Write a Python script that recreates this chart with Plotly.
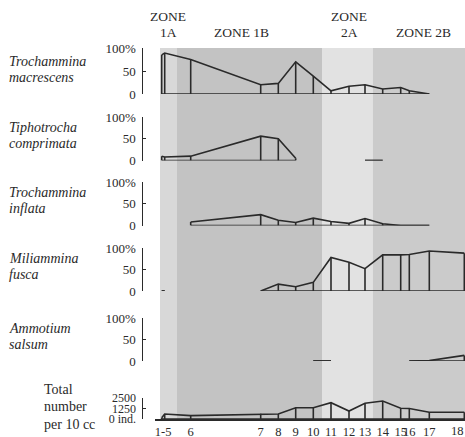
import plotly.graph_objects as go

W, H = 465, 437
INK = "#2a2a2a"
SERIF = "Liberation Serif, Times New Roman, serif"

# ---------------- data ----------------
# samples along the transect (samples 1-5 are bunched together)
SAMPLES = ["1", "5", "6", "7", "8", "9", "10", "11", "12", "13", "14", "15", "16", "17", "18"]
DIST = [0.7, 3.7, 29.7, 99.7, 117.3, 134.7, 152.3, 170.0, 188.0, 204.0,
        221.7, 239.7, 248.3, 268.3, 303.3]
TICK_LABELS = ["1-5", "6", "7", "8", "9", "10", "11", "12", "13", "14",
               "15", "16", "17", "18"]

# relative abundance (%); None = absent, 0 = present in trace amounts
MACRESCENS = [85, 89, 75, 20, 23, 70, 39, 7, 17, 20, 11, 14, 7, 0, None]
COMPRIMATA = [10, 8, 10, 56, 50, 5, None, None, None, 0, 0, None, None, None, None]
INFLATA = [None, None, 8, 25, 12, 7, 17, 9, 5, 16, 4, 0, 0, 0, None]
FUSCA = [0, 0, None, 0, 16, 10, 20, 78, 67, 52, 84, 84, 85, 93, 88]
SALSUM = [None, None, None, None, None, None, 0, 0, None, None, None, None, 0, 1, 13]
TOTAL = [150, 600, 400, 630, 600, 1345, 1345, 1940, 950, 1870, 2140, 1275, 1250, 800, 800]

SPECIES = [("Trochammina", "macrescens"), ("Tiphotrocha", "comprimata"),
           ("Trochammina", "inflata"), ("Miliammina", "fusca"),
           ("Ammotium", "salsum")]

# zones: (line1, line2, start, end)
ZONES = [("ZONE", "1A", -1, 16), ("", "ZONE 1B", 16, 161),
         ("ZONE", "2A", 161, 211.7), ("", "ZONE 2B", 211.7, 304)]
ZONE_COLORS = ["#d8d8d8", "#c3c3c3", "#e2e2e2", "#cbcbcb"]

# ---------------- layout helpers ----------------
# panel pixel extents (top, bottom) of each y bracket
PANELS = [(48, 94), (117, 160.5), (182, 225.5), (248, 291), (318, 361), (398, 419)]
AXIS_X = 141.5


def py(p):
    return 1 - p / H


def px(p):
    return p / W


line_style = dict(color=INK, width=1.6)

fig = go.Figure()

series = [MACRESCENS, COMPRIMATA, INFLATA, FUSCA, SALSUM, TOTAL]
for i, vals in enumerate(series):
    yref = "y" if i == 0 else f"y{i + 1}"
    # profile
    fig.add_trace(go.Scatter(x=DIST, y=vals, mode="lines", line=line_style,
                             connectgaps=False, yaxis=yref, hoverinfo="skip",
                             showlegend=False))
    # baseline where present
    base = [0 if v is not None else None for v in vals]
    fig.add_trace(go.Scatter(x=DIST, y=base, mode="lines", line=line_style,
                             connectgaps=False, yaxis=yref, hoverinfo="skip",
                             showlegend=False))
    # vertical sample lines
    vx, vy = [], []
    for d, v in zip(DIST, vals):
        if v is not None and v > 0:
            vx += [d, d, None]
            vy += [0, v, None]
    fig.add_trace(go.Scatter(x=vx, y=vy, mode="lines", line=line_style,
                             yaxis=yref, hoverinfo="skip", showlegend=False))


def yax(top, bottom, rng, tickvals, ticktext, size=13):
    return dict(domain=[py(bottom), py(top)], range=rng, anchor="free",
                position=px(AXIS_X), showline=True, linecolor=INK, linewidth=1.2,
                ticks="inside", ticklen=3, tickwidth=1.2, tickcolor=INK,
                tickvals=tickvals, ticktext=ticktext, ticklabelstandoff=3,
                tickfont=dict(family=SERIF, size=size, color=INK),
                showgrid=False, zeroline=False, fixedrange=True, automargin=False)


# the last sample label sits on the right edge; it is placed as an annotation
# so that it does not widen the page
layout = dict(
    width=W, height=H, margin=dict(l=0, r=0, t=0, b=0, autoexpand=False),
    paper_bgcolor="white", plot_bgcolor="white", showlegend=False,
    xaxis=dict(domain=[px(155), 1], range=[-6, 304], anchor="y6",
               showline=True, linecolor=INK, linewidth=1.6, ticks="",
               tickvals=[(DIST[0] + DIST[1]) / 2] + DIST[2:-1],
               ticktext=TICK_LABELS[:-1], tickangle=0, ticklabelstandoff=0,
               tickfont=dict(family=SERIF, size=12.5, color=INK),
               showgrid=False, zeroline=False, fixedrange=True, automargin=False),
)
for i, (top, bottom) in enumerate(PANELS):
    key = "yaxis" if i == 0 else f"yaxis{i + 1}"
    if i < 5:
        layout[key] = yax(top, bottom, [0, 100], [0, 50, 100], ["0", "50", "100%"])
    else:
        layout[key] = yax(top, bottom, [0, 2500], [0, 1250, 2500],
                          ["0 ind.", "1250", "2500"], size=12)
fig.update_layout(**layout)

# zone shading
for (l1, l2, x0, x1), col in zip(ZONES, ZONE_COLORS):
    fig.add_shape(type="rect", xref="x", yref="paper", x0=x0, x1=x1,
                  y0=py(419), y1=py(48), fillcolor=col, line_width=0, layer="below")

ann = []


def text(s, x, y, xanchor="left", size=14):
    ann.append(dict(text=s, x=px(x), y=py(y), xref="paper", yref="paper",
                    xanchor=xanchor, yanchor="middle", showarrow=False,
                    font=dict(family=SERIF, size=size, color=INK)))


# zone labels
ZONE_LABEL_X = [168, 241.7, 349, 423]
for (l1, l2, _, _), zx in zip(ZONES, ZONE_LABEL_X):
    if l1:
        text(l1, zx, 16.5, "center", 13.5)
    text(l2, zx, 33, "center", 13.5)

# species labels
for (g, s), (top, bottom) in zip(SPECIES, PANELS):
    text(f"<i>{g}</i>", 7, bottom - 33)
    text(f"<i>{s}</i>", 7, bottom - 17)

text("Total", 41.7, 389.5)
text("number", 41.7, 406.5)
text("per 10 cc", 41.7, 424)

# last sample label at the right edge
ann.append(dict(text=TICK_LABELS[-1], x=1, y=py(430.5), xref="paper", yref="paper",
                xanchor="right", yanchor="middle", showarrow=False, borderpad=0,
                font=dict(family=SERIF, size=12.5, color=INK)))

fig.update_layout(annotations=ann)
fig.write_html("out.html")
